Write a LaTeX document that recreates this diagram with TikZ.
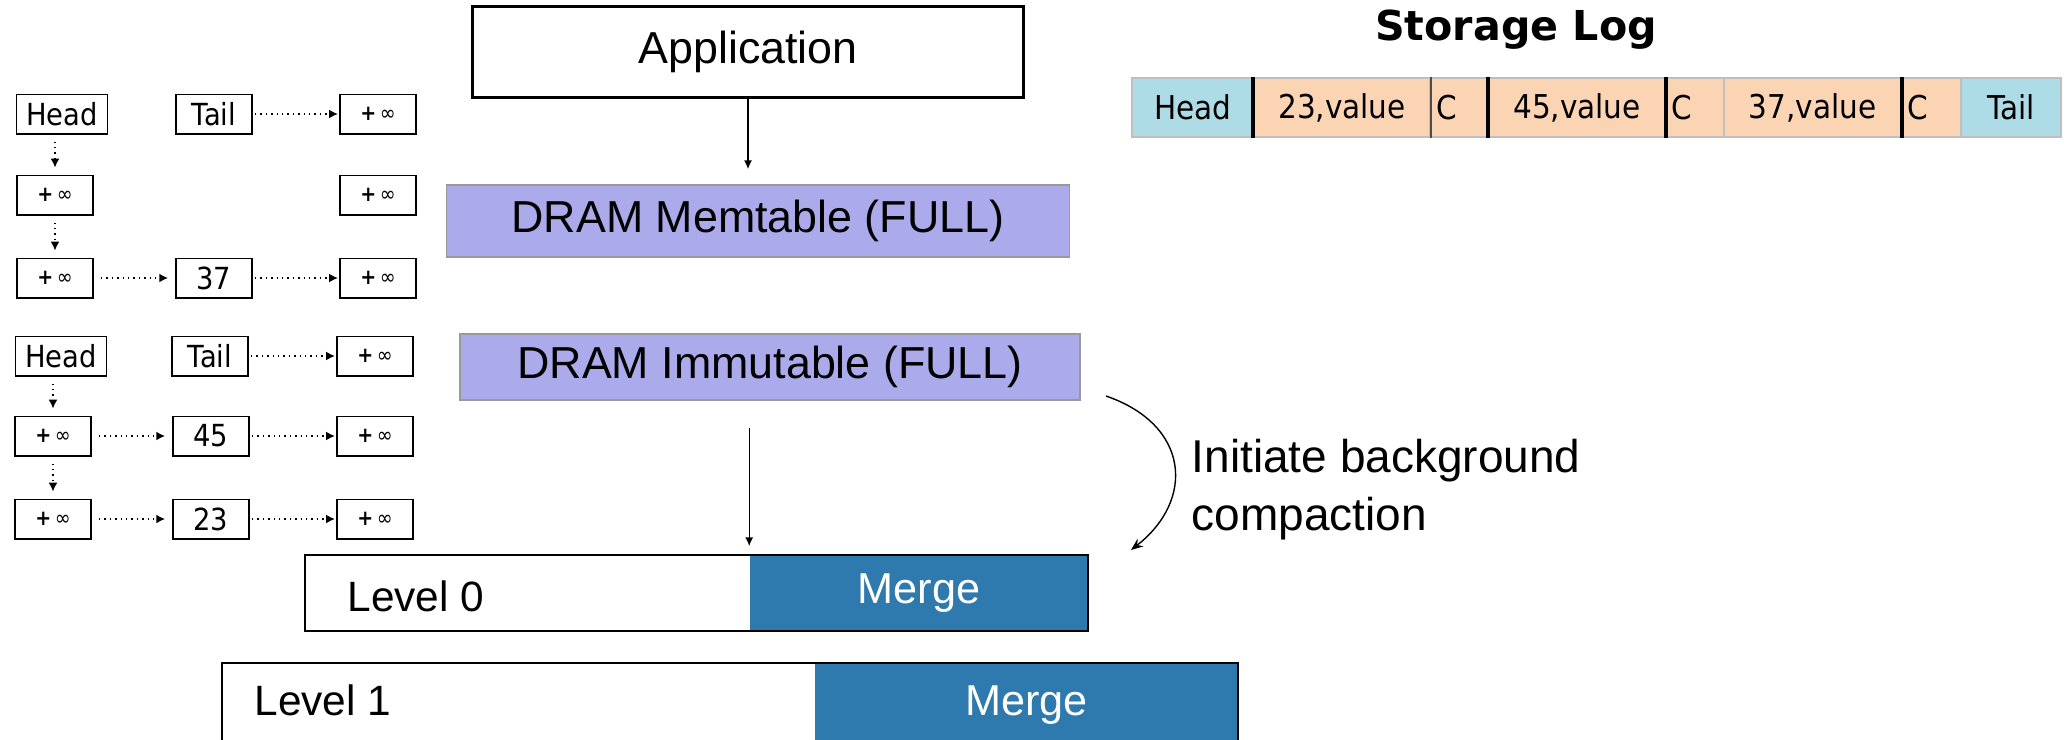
\documentclass[tikz,border=0pt]{standalone}
\usepackage{fontspec}
\setmainfont{Liberation Sans}
\newfontfamily\listfont[FakeStretch=0.9]{DejaVu Sans}
\newfontfamily\titlefont{DejaVu Sans}
\usetikzlibrary{arrows.meta}

\definecolor{dramfill}{HTML}{ABABEB}
\definecolor{mergefill}{HTML}{2E7AAF}
\definecolor{headfill}{HTML}{ADDCE6}
\definecolor{recfill}{HTML}{FBD4B4}

\newcommand{\plusinf}{{\bfseries+}\,∞}

\tikzset{
  cell/.style={draw, line width=0.45pt, inner sep=0pt, minimum height=9.8pt, minimum width=19pt,
    font=\listfont\fontsize{7.6}{9}\selectfont},
  inf/.style={cell, font=\listfont\fontsize{5.3}{6}\selectfont},
  nextptr/.style={densely dotted, line width=0.35pt, -{Latex[length=2.2pt,width=2.2pt]},
    shorten <=1.75pt, shorten >=1.75pt},
  tailptr/.style={nextptr, shorten <=0.5pt, shorten >=0.3pt},
  flow/.style={line width=0.35pt, -{Latex[length=2.2pt,width=2pt]}},
  dram/.style={fill=dramfill, draw=black!40, line width=0.4pt, inner sep=0pt,
    font=\fontsize{11.2}{13}\selectfont},
  level/.style={draw, line width=0.7pt, inner sep=0pt},
  merge/.style={fill=mergefill, inner sep=0pt, text=white, font=\fontsize{10.8}{12}\selectfont},
  lvltext/.style={inner sep=0pt, font=\fontsize{10.6}{12}\selectfont},
  logcell/.style={draw=black!25, line width=0.4pt, inner sep=0pt, minimum height=14.75pt,
    font=\listfont\fontsize{8.2}{10}\selectfont},
  ccell/.style={logcell, fill=recfill, minimum width=14.75pt, text width=11.75pt,
    inner xsep=1.5pt, align=left},
}

\begin{document}
\begin{tikzpicture}[x=0.25pt, y=-0.25pt]
    \useasboundingbox (0,0) rectangle (2072,739);

    % skip list of the memtable
    \node[cell, minimum width=22.75pt] (h1) at (62,114) {Head};
    \node[cell] (t1) at (214,114) {Tail};
    \node[inf] (r1a) at (378,114) {\plusinf};
    \node[inf] (l1b) at (55,195) {\plusinf};
    \node[inf] (r1b) at (378,195) {\plusinf};
    \node[inf] (l1c) at (55,278) {\plusinf};
    \node[cell] (m1c) at (214,278) {37};
    \node[inf] (r1c) at (378,278) {\plusinf};

    \draw[tailptr] (t1) -- (r1a);
    \draw[nextptr] (h1.south -| l1b.north) -- (l1b.north);
    \draw[nextptr] (l1b) -- (l1c);
    \draw[nextptr] (l1c) -- (m1c);
    \draw[tailptr] (m1c) -- (r1c);

    % skip list of the immutable table
    \node[cell, minimum width=22.75pt] (h2) at (61,356) {Head};
    \node[cell] (t2) at (210,356) {Tail};
    \node[inf] (r2a) at (375,356) {\plusinf};
    \node[inf] (l2b) at (53,436) {\plusinf};
    \node[cell] (m2b) at (211,436) {45};
    \node[inf] (r2b) at (375,436) {\plusinf};
    \node[inf] (l2c) at (53,519) {\plusinf};
    \node[cell] (m2c) at (211,519) {23};
    \node[inf] (r2c) at (375,519) {\plusinf};

    \draw[tailptr] (t2) -- (r2a);
    \draw[nextptr] (h2.south -| l2b.north) -- (l2b.north);
    \draw[nextptr] (l2b) -- (m2b);
    \draw[tailptr] (m2b) -- (r2b);
    \draw[nextptr] (l2b) -- (l2c);
    \draw[nextptr] (l2c) -- (m2c);
    \draw[tailptr] (m2c) -- (r2c);

    % write path
    \node[draw, line width=0.65pt, minimum width=137.75pt, minimum height=22.75pt, inner sep=0pt,
          font=\fontsize{11.2}{13}\selectfont] (app) at (748,52) {Application};
    \node[dram, minimum width=155.75pt, minimum height=18pt] (mem) at (758,221) {DRAM Memtable (FULL)};
    \node[dram, minimum width=155pt, minimum height=16.5pt] (imm) at (770,367) {DRAM Immutable (FULL)};

    \draw[flow, shorten >=3.75pt] (app.south) -- (app.south |- mem.north);

    % levels
    \node[merge, minimum width=84.5pt, minimum height=19pt] (m0) at (919,593) {Merge};
    \node[level, minimum width=195.75pt, minimum height=19pt] (lvl0) at (696.5,593) {};
    \node[lvltext] (t0) at (416,596) {Level 0};

    \node[merge, minimum width=105.75pt, minimum height=21.25pt] (m1) at (1026.5,705.5) {Merge};
    \node[level, minimum width=254pt, minimum height=21.25pt] (lvl1) at (730,705.5) {};
    \node[lvltext] (t1l) at (323,700) {Level 1};

    \draw[flow, shorten <=6.75pt, shorten >=2pt] (imm.south -| m0.north west) -- (m0.north west);

    % compaction
    \coordinate (cs) at (1106,396);
    \coordinate (ce) at (1131,550);
    \draw[line width=0.35pt, -{Stealth[length=3pt,width=2.4pt]}] (cs) .. controls (1190,425) and (1195,500) .. (ce);
    \node[anchor=north west, inner sep=0pt, align=left, font=\fontsize{11.5}{14.5}\selectfont]
        (note) at (1191,438) {Initiate background\\compaction};

    % storage log
    \node[font=\titlefont\bfseries\fontsize{10.3}{12}\selectfont] (title) at (1516,30) {Storage Log};
    \node[logcell, fill=headfill, minimum width=30.5pt] (sHead) at (1193,107.5) {Head};
    \node[logcell, fill=recfill, minimum width=44pt] (s23) at (1342,107.5) {23,value};
    \node[ccell] (sC1) at (1459.5,107.5) {C};
    \node[logcell, fill=recfill, minimum width=44pt] (s45) at (1577,107.5) {45,value};
    \node[ccell] (sC2) at (1694.5,107.5) {C};
    \node[logcell, fill=recfill, minimum width=44.25pt] (s37) at (1812.5,107.5) {37,value};
    \node[ccell, minimum width=15pt] (sC3) at (1931,107.5) {C};
    \node[logcell, fill=headfill, minimum width=25pt] (sTail) at (2011,107.5) {Tail};

    \draw[line width=0.9pt] (s23.north west) -- (s23.south west)
                            (s45.north west) -- (s45.south west)
                            (s45.north east) -- (s45.south east)
                            (s37.north east) -- (s37.south east);
    \draw[line width=0.4pt, black!70] (s23.north east) -- (s23.south east);

\end{tikzpicture}
\end{document}
